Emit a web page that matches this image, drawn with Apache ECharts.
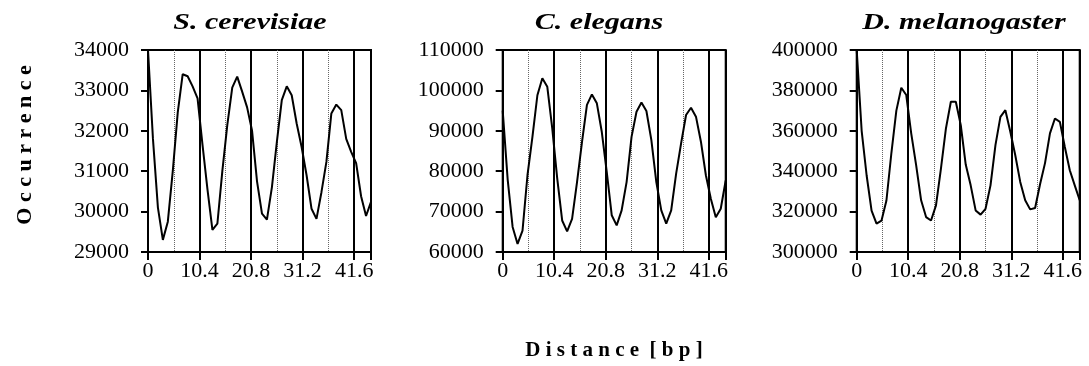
<!DOCTYPE html>
<html>
<head>
<meta charset="UTF-8">
<title>Occurrence vs distance</title>
<script src="https://cdn.jsdelivr.net/npm/echarts@6/dist/echarts.min.js"></script>
<style>
    html, body { margin: 0; padding: 0; background: #fff; }
    #main { width: 1089px; height: 366px; }
</style>
</head>
<body>
<div id="main"></div>
<script>
    // distance in bp, one point per base
    var distance = [0, 1, 2, 3, 4, 5, 6, 7, 8, 9, 10, 11, 12, 13, 14, 15, 16, 17, 18, 19, 20, 21, 22,
        23, 24, 25, 26, 27, 28, 29, 30, 31, 32, 33, 34, 35, 36, 37, 38, 39, 40, 41, 42, 43, 44, 45];
    var xTicks = [0, 10.4, 20.8, 31.2, 41.6];
    var species = ['S. cerevisiae', 'C. elegans', 'D. melanogaster'];

    var scer = [34000, 31800, 30100, 29300, 29750, 31000, 32450, 33400, 33350, 33100,
        32800, 31650, 30550, 29550, 29700, 31000, 32140, 33070, 33340, 32970,
        32580, 32000, 30750, 29950, 29800, 30600, 31720, 32760, 33100, 32880,
        32180, 31600, 30900, 30070, 29820, 30480, 31230, 32430, 32650, 32510,
        31800, 31480, 31200, 30380, 29890, 30240];
    var cele = [95000, 78000, 66200, 62000, 65300, 79000, 88500, 98800, 103000, 100900,
        90600, 78200, 67800, 65100, 68200, 77300, 87200, 96400, 99000, 96800,
        89700, 79800, 69100, 66600, 70300, 77300, 88500, 94700, 97000, 94900,
        87700, 77300, 70300, 67000, 70300, 79400, 86900, 93900, 95700, 93500,
        87300, 79000, 73200, 68600, 70700, 77700];
    var dmel = [400000, 360000, 338000, 320500, 314000, 315500, 325500, 349000, 370000, 381300,
        377700, 358700, 342900, 325600, 317300, 315600, 323100, 341300, 361100, 374400,
        374400, 362800, 343300, 333000, 320600, 318500, 321400, 333000, 352900, 366900,
        370200, 359500, 347900, 334700, 325600, 321100, 321800, 333500, 344000, 358700,
        366100, 364400, 352000, 340500, 333000, 325600];

    var yMin = [29000, 60000, 300000];
    var yMax = [34000, 110000, 400000];
    var yStep = [1000, 10000, 20000];

    var font = "'Liberation Serif', 'Times New Roman', serif";
    var lefts = [148, 502.7, 856.7];
    var plotW = 223, plotTop = 50, plotH = 202;
    var allData = [scer, cele, dmel];

    var grids = [], xAxes = [], yAxes = [], series = [], texts = [];

    for (var i = 0; i < 3; i++) {
        grids.push({
            left: lefts[i], top: plotTop, width: plotW, height: plotH,
            show: true, borderColor: '#000', borderWidth: 2
        });
        // thin dotted lines every 5.2 bp
        xAxes.push({
            type: 'value', gridIndex: i, position: 'bottom', min: 0, max: 45, interval: 5.2,
            axisLine: {show: false}, axisTick: {show: false}, axisLabel: {show: false},
            splitLine: {show: true, lineStyle: {color: '#666', width: 1, type: 'dotted'}}
        });
        // solid lines every 10.4 bp, with labels
        xAxes.push({
            type: 'value', gridIndex: i, position: 'bottom', min: 0, max: 45, interval: 10.4,
            axisLine: {onZero: false, lineStyle: {color: '#000', width: 2}},
            axisTick: {show: true, length: 8, lineStyle: {color: '#000', width: 2}},
            axisLabel: {
                color: '#000', fontFamily: font, fontSize: 22, margin: 8,
                formatter: function (v) {
                    for (var k = 0; k < xTicks.length; k++) {
                        if (Math.abs(xTicks[k] - v) < 1e-6) return String(xTicks[k]);
                    }
                    return '';
                }
            },
            splitLine: {show: true, lineStyle: {color: '#000', width: 2}}
        });
        yAxes.push({
            type: 'value', gridIndex: i, min: yMin[i], max: yMax[i], interval: yStep[i],
            axisLine: {onZero: false, lineStyle: {color: '#000', width: 2}},
            axisTick: {show: true, length: 7, lineStyle: {color: '#000', width: 2}},
            axisLabel: {
                color: '#000', fontFamily: font, fontSize: 22, margin: 19,
                formatter: function (v) { return String(v); }
            },
            splitLine: {show: false}
        });
        series.push({
            type: 'line', xAxisIndex: 2 * i + 1, yAxisIndex: i,
            data: distance.map(function (d, j) { return [d, allData[i][j]]; }),
            showSymbol: false, symbol: 'none',
            lineStyle: {color: '#000', width: 2}
        });
    }

    // the source figure is stretched sideways, so the titles are too
    var titleX = [250, 599, 964];
    for (var t = 0; t < 3; t++) {
        texts.push({
            type: 'text', x: titleX[t], y: 23, scaleX: 1.25,
            style: {
                text: species[t], font: 'italic bold 24px ' + font, fill: '#000',
                align: 'center', verticalAlign: 'middle'
            }
        });
    }
    texts.push({
        type: 'text', x: 25, y: 145, rotation: Math.PI / 2,
        style: {
            text: 'O c c u r r e n c e', font: 'bold 22px ' + font, fill: '#000',
            align: 'center', verticalAlign: 'middle'
        }
    });
    texts.push({
        type: 'text', x: 614, y: 351,
        style: {
            text: 'D i s t a n c e  [ b p ]', font: 'bold 21px ' + font, fill: '#000',
            align: 'center', verticalAlign: 'middle'
        }
    });

    var chart = echarts.init(document.getElementById('main'));
    chart.setOption({
        animation: false,
        backgroundColor: '#fff',
        grid: grids,
        xAxis: xAxes,
        yAxis: yAxes,
        series: series,
        graphic: texts
    });
</script>
</body>
</html>
